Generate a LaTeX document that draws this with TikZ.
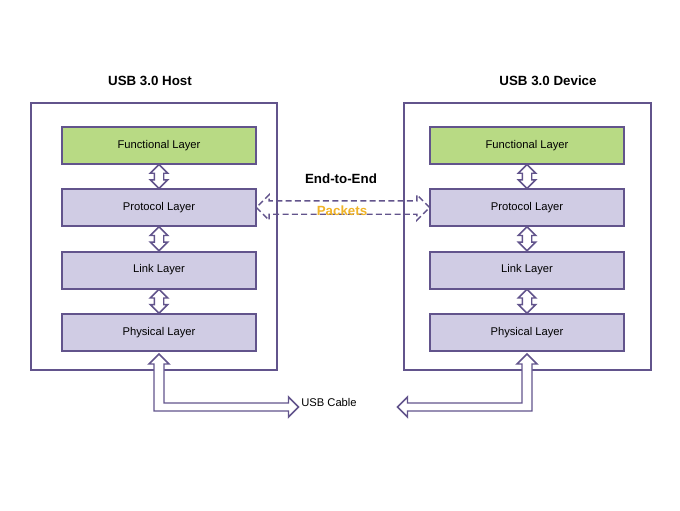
\documentclass[tikz,border=0pt]{standalone}
\usepackage{fontspec}
\setmainfont{Liberation Sans}
\usetikzlibrary{shapes.arrows}
\usetikzlibrary{calc}
\definecolor{usbline}{RGB}{98,84,140}
\definecolor{usbgreen}{RGB}{184,218,132}
\definecolor{usblilac}{RGB}{208,204,228}
\definecolor{usbgold}{RGB}{240,180,40}

\begin{document}
\begin{tikzpicture}[x=0.75pt, y=-0.75pt,
  layer/.style={draw=usbline, line width=1.5pt, minimum width=145.5pt, minimum height=27.75pt, font=\fontsize{8.4}{10}\selectfont},
  updown/.style={double arrow, draw=usbline, fill=white, line width=1.1pt, rotate=90, inner xsep=0pt, inner ysep=3pt, minimum height=18pt, double arrow head extend=3pt},
  title/.style={font=\fontsize{10}{12}\selectfont\bfseries},
  cable/.style={draw=usbline, line width=1.1pt, fill=white}]
\useasboundingbox (0,0) rectangle (680,510);

\draw[usbline, line width=1.1pt] (31,103) rectangle (277,370);
\draw[usbline, line width=1.1pt] (404,103) rectangle (651,370);
\node[title] (hosttitle) at (150,81) {USB 3.0 Host};
\node[title] (devtitle) at (548,81) {USB 3.0 Device};

\node[layer, fill=usbgreen] (hostfun) at (159,145.5) {Functional Layer};
\node[layer, fill=usblilac] (hostpro) at (159,207.5) {Protocol Layer};
\node[layer, fill=usblilac] (hostlink) at (159,270) {Link Layer};
\node[layer, fill=usblilac] (hostphy) at (159,332.5) {Physical Layer};

\node[layer, fill=usbgreen] (devfun) at (527,145.5) {Functional Layer};
\node[layer, fill=usblilac] (devpro) at (527,207.5) {Protocol Layer};
\node[layer, fill=usblilac] (devlink) at (527,270) {Link Layer};
\node[layer, fill=usblilac] (devphy) at (527,332.5) {Physical Layer};

\node[updown] at ($(hostfun.south)!0.5!(hostpro.north)$) {};
\node[updown] at ($(hostpro.south)!0.5!(hostlink.north)$) {};
\node[updown] at ($(hostlink.south)!0.5!(hostphy.north)$) {};
\node[updown] at ($(devfun.south)!0.5!(devpro.north)$) {};
\node[updown] at ($(devpro.south)!0.5!(devlink.north)$) {};
\node[updown] at ($(devlink.south)!0.5!(devphy.north)$) {};

\node[title] (e2e) at (341,179) {End-to-End};
\node[double arrow, draw=usbline, dash pattern=on 4.5pt off 2.5pt, line width=1.1pt, inner xsep=0pt, inner ysep=4.5pt, minimum height=130pt, double arrow head extend=4.5pt] (packarrow) at ($(hostpro.east)!0.5!(devpro.west)$) {};
\node[title, text=usbgold] (packets) at (342,211) {Packets};

\node[font=\fontsize{8.4}{10}\selectfont] (cablename) at (329,402) {USB Cable};
\draw[cable] (hostphy.south) ++(0,2) -- ++(10,10) -- ++(-5,0) -- ++(0,39) -- ++(124.5,0) -- ++(0,-6) -- ++(10,10) -- ++(-10,10) -- ++(0,-6) -- ++(-134.5,0) -- ++(0,-47) -- ++(-5,0) -- cycle;
\draw[cable] (devphy.south) ++(0,2) -- ++(-10,10) -- ++(5,0) -- ++(0,39) -- ++(-114.5,0) -- ++(0,-6) -- ++(-10,10) -- ++(10,10) -- ++(0,-6) -- ++(124.5,0) -- ++(0,-47) -- ++(5,0) -- cycle;
\end{tikzpicture}
\end{document}
